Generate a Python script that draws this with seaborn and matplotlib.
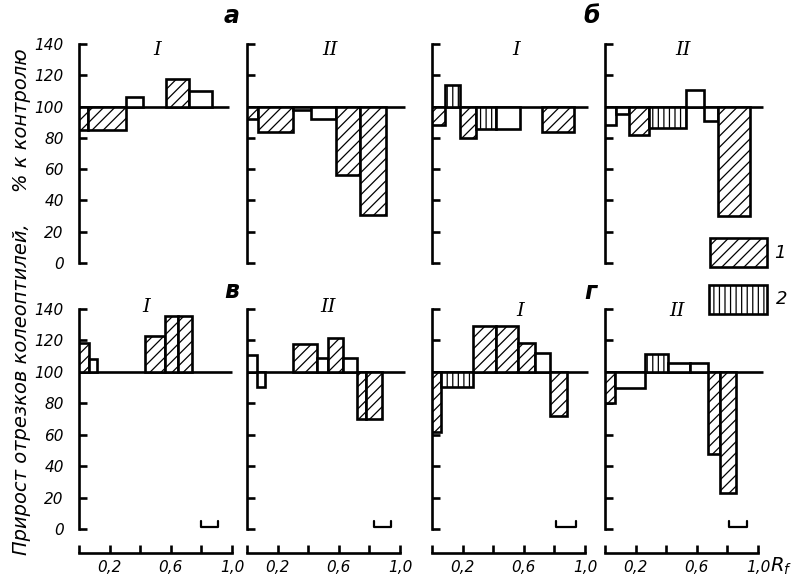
import matplotlib
matplotlib.use("Agg")

import matplotlib.pyplot as plt
from matplotlib.patches import Rectangle
import seaborn as sns

sns.set_style("white")
plt.rcParams["font.family"] = ["DejaVu Sans"]
plt.rcParams["font.style"] = "italic"
plt.rcParams["hatch.linewidth"] = 0.9
plt.rcParams["hatch.color"] = "black"
for key in ["axes.edgecolor", "xtick.color", "ytick.color", "text.color",
            "axes.labelcolor"]:
    plt.rcParams[key] = "black"
plt.rcParams["mathtext.fontset"] = "dejavusans"

# ---- data: each panel = bar left edges, right edges, values (% of control), kind
# kind: 0 = open, 1 = hatched (legend 1), 2 = vertical stripes (legend 2)
panels = {
    "a_I": dict(
        lo=[0.00, 0.06, 0.31, 0.57, 0.72],
        hi=[0.06, 0.31, 0.42, 0.72, 0.87],
        val=[85, 85, 106, 117.5, 110],
        kind=[1, 1, 0, 1, 0],
        line_end=0.98, bracket=None),
    "a_II": dict(
        lo=[0.00, 0.07, 0.30, 0.42, 0.58, 0.74],
        hi=[0.07, 0.30, 0.42, 0.58, 0.74, 0.91],
        val=[92, 84, 98, 92, 56.5, 30.5],
        kind=[1, 1, 0, 0, 1, 1],
        line_end=1.03, bracket=None),
    "b_I": dict(
        lo=[0.00, 0.085, 0.18, 0.29, 0.42, 0.72],
        hi=[0.085, 0.18, 0.29, 0.42, 0.575, 0.93],
        val=[88, 113.5, 80, 85.5, 85.5, 83.5],
        kind=[1, 2, 1, 2, 0, 1],
        line_end=1.02, bracket=None),
    "b_II": dict(
        lo=[0.00, 0.07, 0.16, 0.29, 0.53, 0.65, 0.74],
        hi=[0.07, 0.16, 0.29, 0.53, 0.65, 0.74, 0.95],
        val=[88, 95, 82, 86, 110.5, 90.5, 30],
        kind=[0, 0, 1, 2, 0, 0, 1],
        line_end=1.03, bracket=None),
    "c_I": dict(
        lo=[0.00, 0.065, 0.43, 0.56, 0.65],
        hi=[0.065, 0.12, 0.56, 0.65, 0.74],
        val=[118.5, 108.5, 123, 135.5, 135.5],
        kind=[1, 0, 1, 1, 1],
        line_end=1.0, bracket=(0.80, 0.91)),
    "c_II": dict(
        lo=[0.00, 0.064, 0.30, 0.46, 0.53, 0.63, 0.72, 0.78],
        hi=[0.064, 0.12, 0.46, 0.53, 0.63, 0.72, 0.78, 0.88],
        val=[110.5, 90.5, 117.5, 109, 121.5, 109, 70, 70],
        kind=[0, 0, 1, 0, 1, 0, 1, 1],
        line_end=1.03, bracket=(0.83, 0.94)),
    "d_I": dict(
        lo=[0.00, 0.057, 0.27, 0.42, 0.56, 0.67, 0.77],
        hi=[0.057, 0.27, 0.42, 0.56, 0.67, 0.77, 0.88],
        val=[61.5, 90.5, 129, 129, 118.5, 112, 72],
        kind=[1, 2, 1, 1, 1, 0, 1],
        line_end=1.02, bracket=(0.81, 0.94)),
    "d_II": dict(
        lo=[0.00, 0.067, 0.26, 0.41, 0.555, 0.675, 0.75],
        hi=[0.067, 0.26, 0.41, 0.555, 0.675, 0.75, 0.855],
        val=[80, 89.5, 111.5, 105.5, 105.5, 48, 23],
        kind=[1, 0, 2, 0, 0, 1, 1],
        line_end=1.03, bracket=(0.81, 0.93)),
}

roman = {"a_I": "I", "a_II": "II", "b_I": "I", "b_II": "II",
         "c_I": "I", "c_II": "II", "d_I": "I", "d_II": "II"}
# where the roman numeral sits (data x, data y)
roman_pos = {"a_I": (0.51, 136), "a_II": (0.54, 136), "b_I": (0.55, 136),
             "b_II": (0.51, 136), "c_I": (0.44, 141), "c_II": (0.53, 141),
             "d_I": (0.575, 139), "d_II": (0.47, 139)}

y_ticks = [0, 20, 40, 60, 80, 100, 120, 140]
x_ticks = [0.0, 0.2, 0.4, 0.6, 0.8, 1.0]
x_ticklabels = ["", "0,2", "", "0,6", "", "1,0"]

HATCH = {0: "", 1: "///", 2: "|||"}
LW = 1.9

W, H = 800, 580
fig = plt.figure(figsize=(8, 5.8), dpi=100)

col_x = [79, 247, 432, 605]
rows = [(263, 44), (529, 309)]
order = [["a_I", "a_II", "b_I", "b_II"], ["c_I", "c_II", "d_I", "d_II"]]
unit = 153.0
xmax = 1.06


def draw_panel(ax, p, name, bottom_row, first_col):
    for lo, hi, v, k in zip(p["lo"], p["hi"], p["val"], p["kind"]):
        ax.bar(lo, v - 100, width=hi - lo, bottom=100, align="edge",
               facecolor="white", edgecolor="black", linewidth=LW,
               hatch=HATCH[k], zorder=3)
    ax.plot([0, p["line_end"]], [100, 100], color="black", lw=LW,
            zorder=2, clip_on=False, solid_capstyle="butt")
    if p["bracket"] is not None:
        b0, b1 = p["bracket"]
        ax.plot([b0, b0, b1, b1], [5, 1, 1, 5], color="black", lw=1.6,
                clip_on=False)

    ax.set_xlim(0, xmax)
    ax.set_ylim(0, 140)
    sns.despine(ax=ax, top=True, right=True, bottom=not bottom_row)
    ax.spines["left"].set_linewidth(LW)
    ax.spines["left"].set_bounds(0, 140)
    ax.set_yticks(y_ticks)
    ax.tick_params(axis="y", direction="in", length=6, width=LW,
                   labelsize=11, pad=11, left=True)
    if first_col:
        ax.set_yticklabels([str(t) for t in y_ticks])
    else:
        ax.set_yticklabels([])

    if bottom_row:
        ax.spines["bottom"].set_position(("outward", 17))
        ax.spines["bottom"].set_bounds(0, 1.0)
        ax.spines["bottom"].set_linewidth(LW)
        ax.set_xticks(x_ticks)
        ax.set_xticklabels(x_ticklabels)
        ax.tick_params(axis="x", direction="in", length=6, width=LW,
                       labelsize=11, pad=5, bottom=True)
    else:
        ax.set_xticks([])

    rx, ry = roman_pos[name]
    ax.text(rx, ry, roman[name], ha="center", va="center", fontsize=14,
            family="DejaVu Serif", style="italic", clip_on=False, zorder=5)
    ax.patch.set_alpha(0)


for r, (ybot, ytop) in enumerate(rows):
    for c, x0 in enumerate(col_x):
        ax = fig.add_axes([x0 / W, 1 - ybot / H, xmax * unit / W,
                           (ybot - ytop) / H])
        name = order[r][c]
        draw_panel(ax, panels[name], name, bottom_row=(r == 1),
                   first_col=(c == 0))

# panel letters
for letter, (px, py) in {"а": (232, 16), "б": (592, 16),
                         "в": (232, 291), "г": (591, 292)}.items():
    fig.text(px / W, 1 - py / H, letter, ha="center", va="center",
             fontsize=17, fontweight="bold")

# legend boxes
for (bx0, by0, bx1, by1), kind, lab, lx in [((710, 238, 767, 267), 1, "1", 780),
                                           ((709, 285, 767, 314), 2, "2", 782)]:
    fig.add_artist(Rectangle((bx0 / W, 1 - by1 / H), (bx1 - bx0) / W,
                             (by1 - by0) / H, transform=fig.transFigure,
                             facecolor="white", edgecolor="black",
                             linewidth=LW, hatch=HATCH[kind]))
    fig.text(lx / W, 1 - (by0 + by1) / 2 / H, lab, ha="center",
             va="center", fontsize=13)

fig.text(22 / W, 1 - 302 / H,
         "Прирост отрезков колеоптилей,     % к контролю",
         rotation=90, ha="center", va="center", fontsize=14)

fig.text(781 / W, 1 - 566 / H, r"$R_f$", ha="center", va="center",
         fontsize=14)

fig.savefig("out.png", dpi=100)
